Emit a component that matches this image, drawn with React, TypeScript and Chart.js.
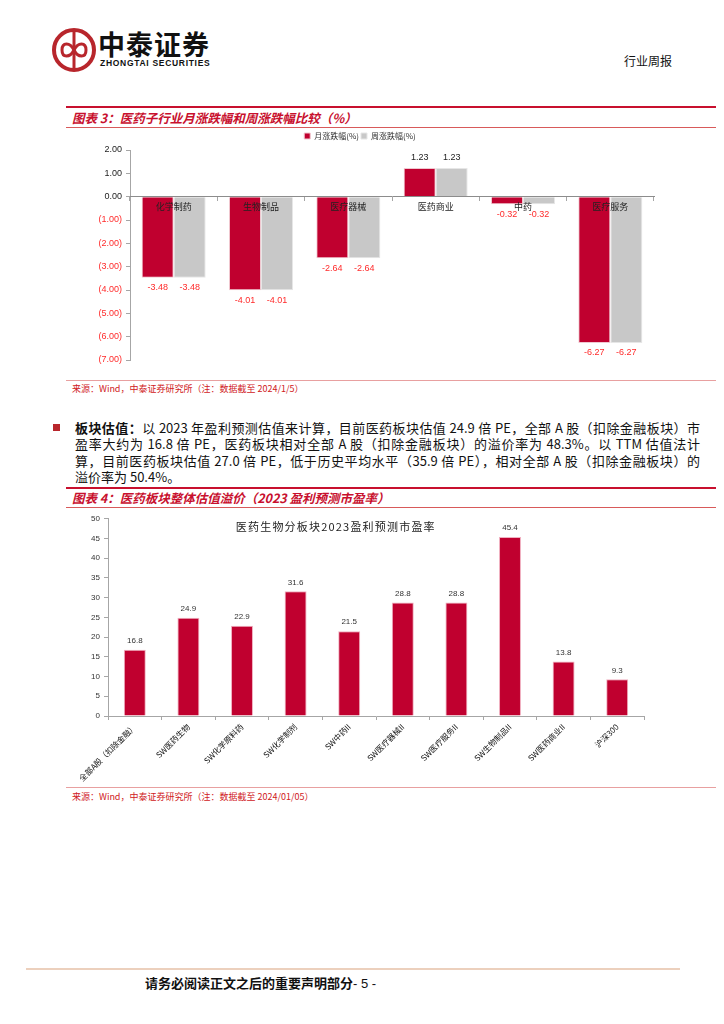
import React, { useEffect, useRef } from 'react';
import { Chart, registerables } from 'chart.js';
Chart.register(...registerables);

// ---------- Chart 3 data ----------
const subIndustries = ['化学制药', '生物制品', '医疗器械', '医药商业', '中药', '医疗服务'];
const monthlyChange = [-3.48, -4.01, -2.64, 1.23, -0.32, -6.27];
const weeklyChange = [-3.48, -4.01, -2.64, 1.23, -0.32, -6.27];
const changeSeriesNames = ['月涨跌幅(%)', '周涨跌幅(%)'];
const changeAxisMin = -7;
const changeAxisMax = 2;
const changeAxisStep = 1;

// ---------- Chart 4 data ----------
const peCategories = [
  '全部A股（扣除金融）',
  'SW医药生物',
  'SW化学原料药',
  'SW化学制剂',
  'SW中药II',
  'SW医疗器械II',
  'SW医疗服务II',
  'SW生物制品II',
  'SW医药商业II',
  '沪深300',
];
const peValues = [16.8, 24.9, 22.9, 31.6, 21.5, 28.8, 28.8, 45.4, 13.8, 9.3];
const peSeriesName = '医药生物分板块2023盈利预测市盈率';
const peAxisMin = 0;
const peAxisMax = 50;
const peAxisStep = 5;

const RED = '#c0002f';
const GREY = '#c8c8c8';
const TITLE_RED = '#c8102e';
const AXIS = '#a6a6a6';
const SANS = '"Liberation Sans", Arial, "Noto Sans CJK SC", sans-serif';
const CJK = '"Noto Sans CJK SC", "Liberation Sans", sans-serif';

const changeLabelPlugin = {
  id: 'changeLabels',
  afterDatasetsDraw(chart: any) {
    const ctx = chart.ctx;
    ctx.save();
    ctx.font = '9px ' + SANS;
    ctx.textAlign = 'center';
    ctx.textBaseline = 'middle';
    chart.data.datasets.forEach((ds: any, di: number) => {
      const meta = chart.getDatasetMeta(di);
      meta.data.forEach((el: any, i: number) => {
        const v = ds.data[i] as number;
        ctx.fillStyle = v < 0 ? '#ff2a2a' : '#222222';
        const y = el.y + (v < 0 ? 10 : -10);
        ctx.fillText(v.toFixed(2), el.x, y);
      });
    });
    ctx.restore();
  },
};

const peLabelPlugin = {
  id: 'peLabels',
  afterDatasetsDraw(chart: any) {
    const ctx = chart.ctx;
    ctx.save();
    ctx.font = '8px ' + SANS;
    ctx.textAlign = 'center';
    ctx.textBaseline = 'bottom';
    ctx.fillStyle = '#333333';
    const meta = chart.getDatasetMeta(0);
    meta.data.forEach((el: any, i: number) => {
      ctx.fillText(peValues[i].toFixed(1), el.x, el.y - 5);
    });
    // in-plot title
    ctx.font = '11px ' + CJK;
    ctx.fillStyle = '#222222';
    ctx.textBaseline = 'middle';
    try { (ctx as any).letterSpacing = '1.2px'; } catch (e) {}
    const area = chart.chartArea;
    ctx.fillText(peSeriesName, area.left + (area.right - area.left) * 0.425, area.top + 8);
    ctx.restore();
  },
};

function ChangeChart() {
  const ref = useRef<HTMLCanvasElement>(null);
  useEffect(() => {
    if (!ref.current) return;
    const chart = new Chart(ref.current, {
      type: 'bar',
      data: {
        labels: subIndustries,
        datasets: [
          {
            label: changeSeriesNames[0],
            data: monthlyChange,
            backgroundColor: RED,
            borderColor: '#f0c8d0',
            borderWidth: 1,
            categoryPercentage: 0.733,
            barPercentage: 1,
          },
          {
            label: changeSeriesNames[1],
            data: weeklyChange,
            backgroundColor: GREY,
            borderColor: '#e6e6e6',
            borderWidth: 1,
            categoryPercentage: 0.733,
            barPercentage: 1,
          },
        ],
      },
      options: {
        responsive: false,
        animation: false,
        layout: { padding: { top: 0, right: 62, bottom: 19, left: 0 } },
        plugins: {
          legend: {
            display: true,
            position: 'top',
            labels: {
              boxWidth: 6,
              boxHeight: 6,
              padding: 2,
              font: { size: 8, family: CJK },
              color: '#333333',
            },
          },
          tooltip: { enabled: false },
        },
        scales: {
          x: {
            position: { y: 0 } as any,
            grid: {
              display: true,
              drawOnChartArea: false,
              drawTicks: true,
              tickLength: 4,
              color: AXIS,
              z: 1,
            },
            border: { display: true, color: '#8c8c8c', width: 1, z: 1 },
            ticks: {
              font: { size: 9, family: CJK },
              color: '#222222',
              padding: 1,
              maxRotation: 0,
              minRotation: 0,
              z: 2,
            },
          },
          y: {
            min: changeAxisMin,
            max: changeAxisMax,
            afterFit: (scale: any) => {
              scale.width = 64;
            },
            grid: {
              display: true,
              drawOnChartArea: false,
              drawTicks: true,
              tickLength: 4,
              color: AXIS,
            },
            border: { display: true, color: AXIS },
            ticks: {
              stepSize: changeAxisStep,
              padding: 4,
              font: { size: 9, family: SANS },
              color: (c: any) => (c.tick && c.tick.value < 0 ? '#ff2a2a' : '#222222'),
              callback: (v: any) => {
                const n = Number(v);
                return n < 0 ? '(' + Math.abs(n).toFixed(2) + ')' : n.toFixed(2);
              },
            },
          },
        },
      },
      plugins: [changeLabelPlugin],
    });
    return () => chart.destroy();
  }, []);
  return <canvas ref={ref} width={650} height={249} style={{ display: 'block' }} />;
}

function PEChart() {
  const ref = useRef<HTMLCanvasElement>(null);
  useEffect(() => {
    if (!ref.current) return;
    const chart = new Chart(ref.current, {
      type: 'bar',
      data: {
        labels: peCategories,
        datasets: [
          {
            label: peSeriesName,
            data: peValues,
            backgroundColor: RED,
            borderColor: '#f0b0c0',
            borderWidth: 1,
            categoryPercentage: 0.82,
            barPercentage: 0.5,
          },
        ],
      },
      options: {
        responsive: false,
        animation: false,
        layout: { padding: { top: 8, right: 72, bottom: 0, left: 0 } },
        plugins: {
          legend: { display: false },
          tooltip: { enabled: false },
        },
        scales: {
          x: {
            afterFit: (scale: any) => {
              scale.height = 69;
            },
            grid: {
              display: true,
              drawOnChartArea: false,
              drawTicks: true,
              tickLength: 4,
              color: AXIS,
            },
            border: { display: true, color: AXIS },
            ticks: {
              font: { size: 8, family: CJK },
              color: '#111111',
              maxRotation: 45,
              minRotation: 45,
              padding: 2,
              autoSkip: false,
            },
          },
          y: {
            min: peAxisMin,
            max: peAxisMax,
            afterFit: (scale: any) => {
              scale.width = 42;
            },
            grid: {
              display: true,
              drawOnChartArea: false,
              drawTicks: true,
              tickLength: 4,
              color: AXIS,
            },
            border: { display: true, color: AXIS },
            ticks: {
              stepSize: peAxisStep,
              padding: 4,
              font: { size: 8, family: SANS },
              color: '#333333',
            },
          },
        },
      },
      plugins: [peLabelPlugin],
    });
    return () => chart.destroy();
  }, []);
  return <canvas ref={ref} width={650} height={275} style={{ display: 'block' }} />;
}

const abs = (left: number, top: number, extra: React.CSSProperties = {}): React.CSSProperties => ({
  position: 'absolute',
  left,
  top,
  ...extra,
});

function Logo() {
  return (
    <svg width={48} height={48} viewBox="0 0 48 48" style={abs(50, 26)}>
      <circle cx={24} cy={24} r={20} fill="none" stroke="#b8262c" strokeWidth={4} />
      <line x1={24} y1={5} x2={24} y2={43} stroke="#b8262c" strokeWidth={3} />
      <path
        d="M24 24 C 20 16, 12 16, 12 24 C 12 32, 20 32, 24 24 C 28 16, 36 16, 36 24 C 36 32, 28 32, 24 24 Z"
        fill="none"
        stroke="#b8262c"
        strokeWidth={3}
      />
    </svg>
  );
}

const paraLines = [
  '以 2023 年盈利预测估值来计算，目前医药板块估值 24.9 倍 PE，全部 A 股（扣除金融板块）市',
  '盈率大约为 16.8 倍 PE，医药板块相对全部 A 股（扣除金融板块）的溢价率为 48.3%。以 TTM 估值法计',
  '算，目前医药板块估值 27.0 倍 PE，低于历史平均水平（35.9 倍 PE），相对全部 A 股（扣除金融板块）的',
  '溢价率为 50.4%。',
];

export default function App() {
  const lineStyle: React.CSSProperties = {
    height: 16.6,
    lineHeight: '16.6px',
    whiteSpace: 'nowrap',
    textAlign: 'justify',
    textAlignLast: 'justify' as any,
    overflow: 'visible',
  };
  return (
    <div
      style={{
        position: 'absolute',
        left: 0,
        top: 0,
        width: 724,
        height: 1024,
        background: '#ffffff',
        fontFamily: CJK,
        color: '#111',
        overflow: 'hidden',
      }}
    >
      {/* Header */}
      <Logo />
      <div style={abs(98, 28, { fontSize: 27, fontWeight: 700, letterSpacing: 1, lineHeight: '32px', color: '#111' })}>中泰证券</div>
      <div style={abs(100, 58, { fontSize: 8.5, fontWeight: 700, fontFamily: SANS, letterSpacing: 0.7, lineHeight: '10px', color: '#111', whiteSpace: 'nowrap' })}>
        ZHONGTAI SECURITIES
      </div>
      <div style={abs(624, 53, { fontSize: 12, lineHeight: '16px', color: '#111' })}>行业周报</div>

      {/* Figure 3 title */}
      <div style={abs(66, 106, { width: 650, height: 2, background: TITLE_RED })} />
      <div style={abs(72, 109, { fontSize: 12.5, fontWeight: 700, fontStyle: 'italic', color: TITLE_RED, lineHeight: '17px', whiteSpace: 'nowrap' })}>
        图表 3：医药子行业月涨跌幅和周涨跌幅比较（%）
      </div>
      <div style={abs(66, 127, { width: 650, height: 1, background: '#d85a5a' })} />

      <div style={abs(66, 130, { width: 650, height: 249 })}>
        <ChangeChart />
      </div>

      <div style={abs(66, 380, { width: 650, height: 1, background: '#e8a0a0' })} />
      <div style={abs(72, 382, { fontSize: 9, color: '#d0201c', lineHeight: '13px', whiteSpace: 'nowrap' })}>
        来源：Wind，中泰证券研究所（注：数据截至 2024/1/5）
      </div>

      {/* Paragraph */}
      <div style={abs(53, 424, { width: 7, height: 7, background: '#b8262c' })} />
      <div style={abs(75, 419.5, { width: 625, fontSize: 13, color: '#111' })}>
        <div style={lineStyle}>
          <b>板块估值：</b>
          {paraLines[0]}
        </div>
        <div style={lineStyle}>{paraLines[1]}</div>
        <div style={lineStyle}>{paraLines[2]}</div>
        <div style={{ ...lineStyle, textAlign: 'left', textAlignLast: 'left' as any }}>{paraLines[3]}</div>
      </div>

      {/* Figure 4 title */}
      <div style={abs(66, 487, { width: 650, height: 2, background: TITLE_RED })} />
      <div style={abs(72, 489, { fontSize: 12.5, fontWeight: 700, fontStyle: 'italic', color: TITLE_RED, lineHeight: '17px', whiteSpace: 'nowrap' })}>
        图表 4：医药板块整体估值溢价（2023 盈利预测市盈率）
      </div>
      <div style={abs(66, 507, { width: 650, height: 1, background: '#d85a5a' })} />

      <div style={abs(66, 510, { width: 650, height: 275 })}>
        <PEChart />
      </div>

      <div style={abs(66, 787, { width: 650, height: 1, background: '#e8a0a0' })} />
      <div style={abs(72, 790, { fontSize: 9, color: '#d0201c', lineHeight: '13px', whiteSpace: 'nowrap' })}>
        来源：Wind，中泰证券研究所（注：数据截至 2024/01/05）
      </div>

      {/* Footer */}
      <div style={abs(26, 968, { width: 654, height: 2, background: '#ecd0bd' })} />
      <div style={abs(145, 974, { fontSize: 13, fontWeight: 700, lineHeight: '17px', whiteSpace: 'nowrap', color: '#111' })}>
        请务必阅读正文之后的重要声明部分<span style={{ fontWeight: 400, fontFamily: SANS }}>- 5 -</span>
      </div>
    </div>
  );
}
